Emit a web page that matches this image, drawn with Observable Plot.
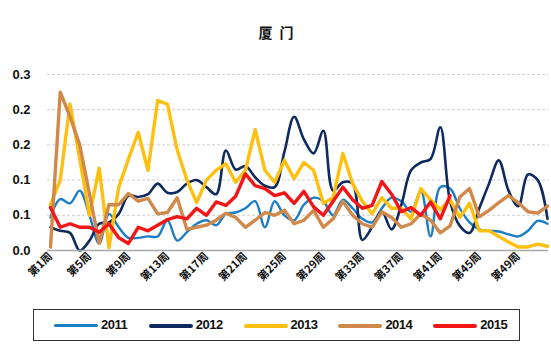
<!DOCTYPE html>
<html>
<head>
<meta charset="utf-8">
<script src="https://cdn.jsdelivr.net/npm/d3@7"></script>
<script src="https://cdn.jsdelivr.net/npm/@observablehq/plot@0.6"></script>
<style>
  html, body { margin: 0; padding: 0; background: #fff; }
  #wrap { position: relative; width: 551px; height: 355px; overflow: hidden;
          font-family: "Liberation Sans", Arial, "Noto Sans CJK SC", sans-serif; }
  #title { position: absolute; left: 0; width: 554px; top: 22px; text-align: center;
           font-family: "Noto Sans CJK SC", sans-serif; font-weight: bold; font-size: 14px;
           letter-spacing: 2px; color: #111; }
  #chart { position: absolute; left: 0; top: 0; }
  #legend { position: absolute; left: 33px; top: 309px; width: 485px; height: 30px;
            border: 1px solid #333; box-sizing: content-box; }
  .sw { position: absolute; top: 14px; height: 4px; width: 44px; border-radius: 2px; }
  .lt { position: absolute; top: 7px; font-size: 13px; font-weight: bold; color: #111;
        letter-spacing: -0.5px; }
</style>
</head>
<body>
<div id="wrap">
  <div id="chart"></div>
  <div id="title">厦 门</div>
  <div id="legend"></div>
</div>
<script>
// ---- data ----
const years = ["2011", "2012", "2013", "2014", "2015"];
const colors = ["#1b7dc3", "#0f2a5e", "#fdc010", "#d0894b", "#f21616"];
const weeks = d3.range(1, 53);
const xTickWeeks = [1, 5, 9, 13, 17, 21, 25, 29, 33, 37, 41, 45, 49];
const yTickValues = [0, 0.05, 0.1, 0.15, 0.2, 0.25];
const yTickLabels = ["0.0", "0.1", "0.1", "0.2", "0.2", "0.3"];

const v2011 = [0.047,0.073,0.067,0.085,0.05,0.01,0.052,0.033,0.018,0.018,
               0.02,0.02,0.043,0.014,0.026,0.038,0.043,0.036,0.052,0.054,
               0.06,0.07,0.033,0.07,0.05,0.043,0.065,0.075,0.07,0.05,
               0.072,0.06,0.045,0.04,0.06,0.075,0.07,0.055,0.085,0.02,
               0.09,0.088,0.06,0.04,0.03,0.028,0.027,0.023,0.02,0.028,0.042,0.038];
const v2012 = [0.033,0.028,0.025,0.0,0.014,0.038,0.04,0.052,0.078,0.076,
               0.08,0.095,0.082,0.083,0.095,0.1,0.09,0.08,0.142,0.115,
               0.12,0.104,0.092,0.09,0.14,0.19,0.158,0.138,0.17,0.085,
               0.097,0.095,0.015,0.033,0.055,0.03,0.065,0.114,0.125,0.13,
               0.175,0.07,0.035,0.025,0.06,0.095,0.128,0.085,0.063,0.108,0.1,0.045];
const v2013 = [0.065,0.1,0.208,0.13,0.05,0.117,0.004,0.09,0.13,0.168,
               0.114,0.213,0.208,0.143,0.1,0.068,0.1,0.114,0.123,0.097,
               0.114,0.172,0.114,0.097,0.128,0.102,0.125,0.114,0.067,0.075,
               0.138,0.095,0.07,0.052,0.075,0.06,0.06,0.045,0.088,0.072,
               0.058,0.072,0.047,0.067,0.028,0.028,0.02,0.012,0.005,0.005,0.009,0.006];
const v2014 = [0.005,0.225,0.19,0.15,0.08,0.01,0.065,0.065,0.081,0.07,
               0.074,0.052,0.054,0.075,0.03,0.033,0.036,0.043,0.053,0.047,
               0.033,0.043,0.054,0.05,0.057,0.038,0.043,0.057,0.033,0.045,
               0.07,0.05,0.038,0.033,0.055,0.047,0.033,0.038,0.052,0.043,
               0.025,0.035,0.076,0.088,0.048,0.057,0.068,0.078,0.068,0.055,0.053,0.063];
const v2015 = [0.061,0.033,0.038,0.033,0.033,0.026,0.038,0.018,0.01,0.033,
               0.028,0.036,0.044,0.048,0.045,0.06,0.05,0.069,0.064,0.077,
               0.109,0.092,0.088,0.078,0.082,0.067,0.084,0.062,0.05,0.07,
               0.09,0.072,0.06,0.064,0.098,0.08,0.055,0.061,0.05,0.069,
               0.045,0.078];

const seriesValues = [v2011, v2012, v2013, v2014, v2015];
const widths = [2.4, 2.6, 3.4, 3.4, 3.4];
const curves = ["catmull-rom", "catmull-rom", "linear", "linear", "linear"];

const rows = [];
seriesValues.forEach((vals, s) => vals.forEach((v, i) => rows.push({year: years[s], week: weeks[i], value: v})));

const font = '"Liberation Sans", Arial, "Noto Sans CJK SC", sans-serif';

const chart = Plot.plot({
  width: 551, height: 305,
  marginTop: 74, marginBottom: 55, marginLeft: 47, marginRight: 3,
  style: {fontFamily: font, background: "transparent", color: "#111"},
  x: {type: "linear", domain: [1, 52], insetLeft: 3, insetRight: 1},
  y: {domain: [0, 0.25]},
  marks: [
    Plot.ruleY(yTickValues.filter(v => v > 0), {stroke: "#cfcfcf", strokeDasharray: "3,2", strokeWidth: 1}),
    Plot.axisY({ticks: yTickValues, tickFormat: d => yTickLabels[yTickValues.indexOf(d)],
                tickSize: 0, tickPadding: 17, fontSize: 13, fontWeight: "bold", label: null, fill: "#111"}),
    Plot.axisX({ticks: xTickWeeks, tickFormat: d => `第${d}周`, tickSize: 0, tickPadding: 4,
                tickRotate: -45, fontSize: 11, fontWeight: "bold", label: null, fill: "#111",
                fontFamily: '"Noto Sans CJK SC", sans-serif'}),
    ...years.map((y, s) => Plot.line(rows.filter(r => r.year === y), {
      x: "week", y: "value", stroke: colors[s], strokeWidth: widths[s], curve: curves[s],
      strokeLinejoin: "round", strokeLinecap: "round"
    })),
    Plot.ruleY([0], {stroke: "#a8a8a8", strokeWidth: 1.5})
  ]
});
document.getElementById("chart").appendChild(chart);

// legend
const legend = document.getElementById("legend");
years.forEach((y, i) => {
  const sw = document.createElement("div");
  sw.className = "sw";
  sw.style.left = (20 + i * 94.8) + "px";
  sw.style.background = colors[i];
  sw.style.height = (widths[i] + 1) + "px";
  legend.appendChild(sw);
  const t = document.createElement("div");
  t.className = "lt";
  t.style.left = (67 + i * 94.8) + "px";
  t.textContent = y;
  legend.appendChild(t);
});
</script>
</body>
</html>
